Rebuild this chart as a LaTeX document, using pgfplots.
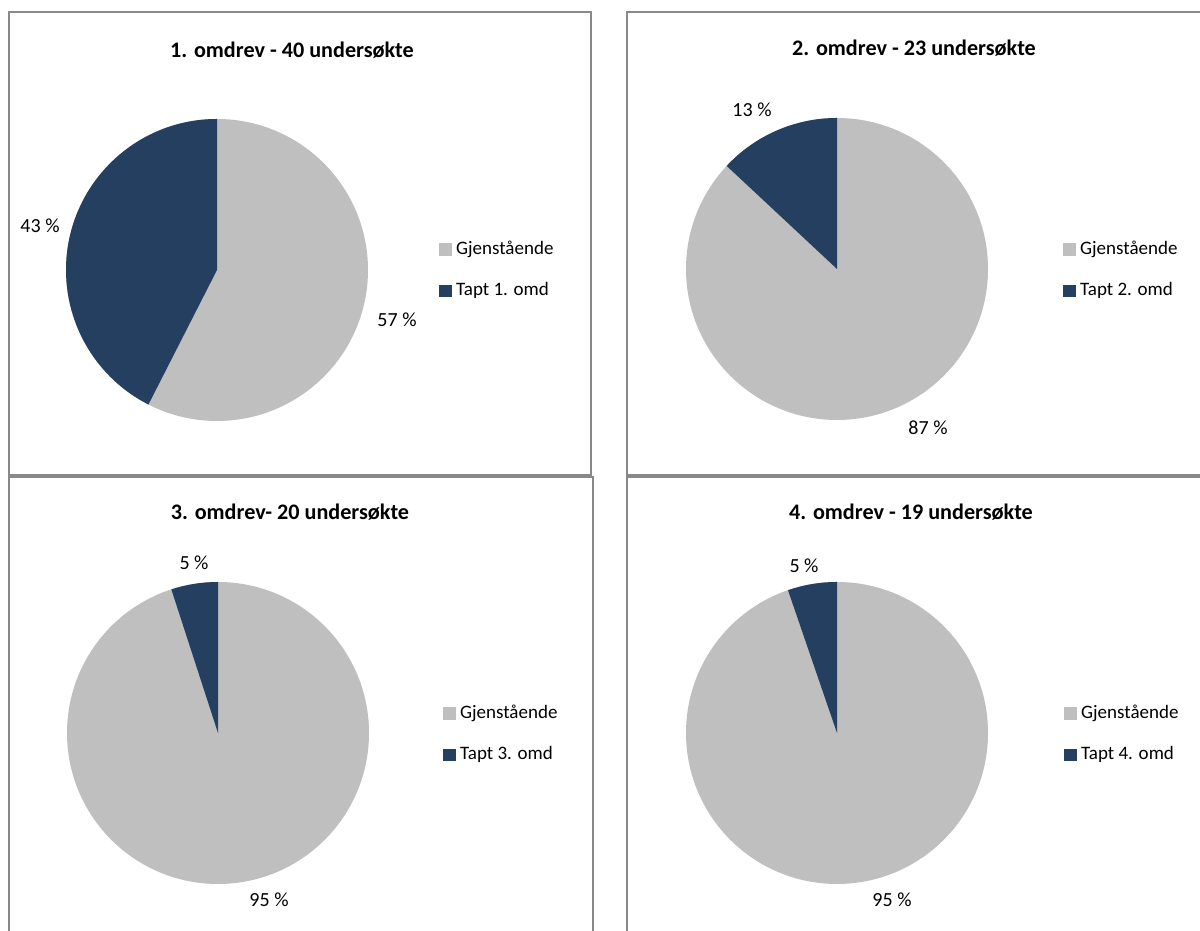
\documentclass[border=0pt]{standalone}
\usepackage{fontspec}
\setmainfont{Carlito}
\usepackage{pgfplots}
\usepackage{pgfplotstable}
\pgfplotsset{compat=1.18}

\definecolor{gjen}{HTML}{BFBFBF}
\definecolor{tapt}{HTML}{243F60}
\definecolor{ramme}{HTML}{898989}

% omdrev, antall undersøkte, antall tapt
\pgfplotstableread{
omdrev undersokte tapt
1 40 17
2 23 3
3 20 1
4 19 1
}\data

% 1 px = 0.6pt
\def\R{90.6pt}

\pgfplotsset{
  panel/.style={
    scale only axis, xmin=0, ymin=0,
    xtick=\empty, ytick=\empty,
    axis line style={draw=ramme, line width=1.2pt},
    clip=false,
    legend cell align=left,
    legend image code/.code={\fill[##1] (0pt,-3.4pt) rectangle (6.8pt,3.4pt);},
    legend style={draw=none, fill=none, anchor=west, inner sep=0pt,
      row sep=12.2pt, font=\fontsize{11.4}{13}\selectfont,
      nodes={inner xsep=1.3pt, inner ysep=1.5pt},
      /tikz/every odd column/.append style={column sep=1.6pt}},
  },
}
\tikzset{tittel/.style={font=\bfseries\fontsize{13.3}{15}\selectfont}}

\newcommand\vinkel[1]{%
  \pgfplotstablegetelem{#1}{undersokte}\of\data \let\antall\pgfplotsretval
  \pgfplotstablegetelem{#1}{tapt}\of\data \let\antalltapt\pgfplotsretval
  \pgfmathsetmacro\grad{360*\antalltapt/\antall}%
}

\begin{document}
\fontsize{12}{14}\selectfont
\begin{tikzpicture}
\path[use as bounding box, clip] (0,0) rectangle (720pt,558.6pt);

% 1. omdrev
\vinkel{0}
\begin{axis}[panel, at={(5.4pt,273.6pt)}, width=349.2pt, height=277.8pt,
  xmax=582, ymax=463, legend style={at={(axis cs:430,205)}}]
\fill[gjen] (208,205) circle[radius=\R];
\fill[tapt] (208,205) -- ++(90:\R) arc[start angle=90, end angle={90+\grad}, radius=\R] -- cycle;
\node[tittel] at (283,425) {1. omdrev - 40 undersøkte};
\node at (31,249) {43 \%};
\node at (388,155) {57 \%};
\addlegendimage{gjen} \addlegendentry{Gjenstående}
\addlegendimage{tapt} \addlegendentry{Tapt 1. omd}
\end{axis}

% 2. omdrev
\vinkel{1}
\begin{axis}[panel, at={(376.2pt,273.6pt)}, width=352.8pt, height=277.8pt,
  xmax=588, ymax=463, legend style={at={(axis cs:436,205)}}]
\fill[gjen] (210,206) circle[radius=\R];
\fill[tapt] (210,206) -- ++(90:\R) arc[start angle=90, end angle={90+\grad}, radius=\R] -- cycle;
\node[tittel] at (287,427) {2. omdrev - 23 undersøkte};
\node at (125,365) {13 \%};
\node at (301,47) {87 \%};
\addlegendimage{gjen} \addlegendentry{Gjenstående}
\addlegendimage{tapt} \addlegendentry{Tapt 2. omd}
\end{axis}

% 3. omdrev
\vinkel{2}
\begin{axis}[panel, at={(5.4pt,-8.4pt)}, width=350.4pt, height=280.8pt,
  xmax=584, ymax=468, legend style={at={(axis cs:434,211)}}]
\fill[gjen] (209,212) circle[radius=\R];
\fill[tapt] (209,212) -- ++(90:\R) arc[start angle=90, end angle={90+\grad}, radius=\R] -- cycle;
\node[tittel] at (281,433) {3. omdrev- 20 undersøkte};
\node at (185,382) {5 \%};
\node at (260,45) {95 \%};
\addlegendimage{gjen} \addlegendentry{Gjenstående}
\addlegendimage{tapt} \addlegendentry{Tapt 3. omd}
\end{axis}

% 4. omdrev
\vinkel{3}
\begin{axis}[panel, at={(376.2pt,-8.4pt)}, width=352.8pt, height=280.8pt,
  xmax=588, ymax=468, legend style={at={(axis cs:437,211)}}]
\fill[gjen] (210,212) circle[radius=\R];
\fill[tapt] (210,212) -- ++(90:\R) arc[start angle=90, end angle={90+\grad}, radius=\R] -- cycle;
\node[tittel] at (284,433) {4. omdrev - 19 undersøkte};
\node at (177,379) {5 \%};
\node at (265,45) {95 \%};
\addlegendimage{gjen} \addlegendentry{Gjenstående}
\addlegendimage{tapt} \addlegendentry{Tapt 4. omd}
\end{axis}
\end{tikzpicture}
\end{document}
